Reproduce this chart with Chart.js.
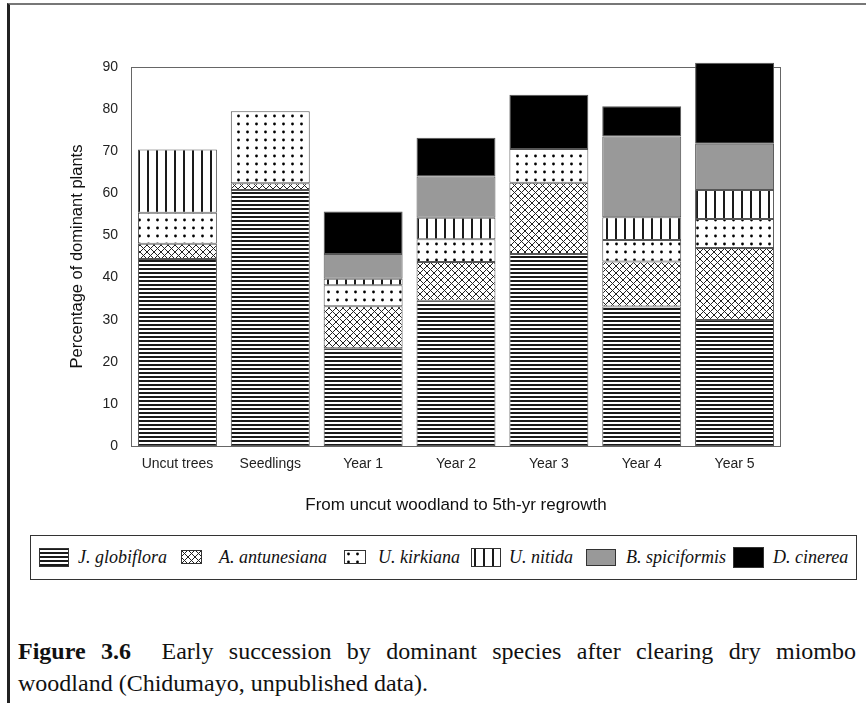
<!DOCTYPE html>
<html>
<head>
<meta charset="utf-8">
<script src="https://cdn.jsdelivr.net/npm/chart.js@4.4.0/dist/chart.umd.min.js"></script>
<style>
  html, body { margin: 0; padding: 0; background: #fff; }
  body { width: 866px; height: 703px; position: relative; overflow: hidden; }
  #frame { position: absolute; left: 7px; top: 3px; right: -10px; bottom: -10px;
    border-left: 3px solid #222; border-top: 2px solid #777; }
  #chartBox { position: absolute; left: 0; top: 0; width: 866px; height: 530px; }
  #legend { position: absolute; left: 30px; top: 535px; width: 825px; height: 43px;
    border: 1px solid #333; font-family: "Liberation Serif", "Times New Roman", serif;
    font-style: italic; font-size: 18px; color: #111; }
  #legend canvas, #legend span { position: absolute; }
  #legend span { top: 11px; white-space: nowrap; }
  #caption { position: absolute; left: 18px; top: 635px; width: 838px;
    font-family: "Liberation Serif", "Times New Roman", serif; font-size: 24px;
    line-height: 32px; color: #111; }
  #caption .l1 { text-align: justify; text-align-last: justify; }
</style>
</head>
<body>
<div id="frame"></div>
<div id="chartBox"><canvas id="chart" width="866" height="530"></canvas></div>
<div id="legend"></div>
<div id="caption">
  <div class="l1"><b>Figure 3.6</b>&nbsp; Early succession by dominant species after clearing dry miombo</div>
  <div>woodland (Chidumayo, unpublished data).</div>
</div>
<script>
const categories = ['Uncut trees', 'Seedlings', 'Year 1', 'Year 2', 'Year 3', 'Year 4', 'Year 5'];
const species = ['J. globiflora', 'A. antunesiana', 'U. kirkiana', 'U. nitida', 'B. spiciformis', 'D. cinerea'];

// percentage of dominant plants, one array per species (bottom to top of each stack)
const globiflora  = [44.4, 60.8, 23.2, 34.5, 45.6, 33.1, 29.9];
const antunesiana = [3.6, 1.6, 10.0, 9.2, 16.9, 10.7, 17.1];
const kirkiana    = [7.4, 17.1, 5.0, 5.4, 8.0, 5.1, 6.9];
const nitida      = [15.0, 0, 1.5, 5.1, 0, 5.4, 6.9];
const spiciformis = [0, 0, 5.9, 9.8, 0, 19.2, 11.0];
const cinerea     = [0, 0, 10.1, 9.2, 12.9, 7.2, 19.2];

const yTicks = [0, 10, 20, 30, 40, 50, 60, 70, 80, 90];

const xTitle = 'From uncut woodland to 5th-yr regrowth';
const yTitle = 'Percentage of dominant plants';

// small tiles used as fill patterns
function makeTile(kind) {
  const c = document.createElement('canvas');
  const g = c.getContext('2d');
  if (kind === 'hlines') {
    c.width = 4; c.height = 4;
    g.fillStyle = '#fff'; g.fillRect(0, 0, 4, 4);
    g.fillStyle = '#1a1a1a'; g.fillRect(0, 0, 4, 2);
  } else if (kind === 'cross') {
    c.width = 7; c.height = 7;
    g.fillStyle = '#fff'; g.fillRect(0, 0, 7, 7);
    g.strokeStyle = '#222'; g.lineWidth = 1;
    g.beginPath();
    g.moveTo(0, 0); g.lineTo(7, 7);
    g.moveTo(7, 0); g.lineTo(0, 7);
    g.stroke();
  } else if (kind === 'dots') {
    c.width = 9; c.height = 8;
    g.fillStyle = '#fff'; g.fillRect(0, 0, 9, 8);
    g.fillStyle = '#000';
    g.beginPath(); g.arc(4.5, 4, 1.4, 0, Math.PI * 2); g.fill();
  } else if (kind === 'vlines') {
    c.width = 9; c.height = 4;
    g.fillStyle = '#fff'; g.fillRect(0, 0, 9, 4);
    g.fillStyle = '#1a1a1a'; g.fillRect(3, 0, 2, 4);
  } else if (kind === 'gray') {
    c.width = 2; c.height = 2;
    g.fillStyle = '#999'; g.fillRect(0, 0, 2, 2);
  } else {
    c.width = 2; c.height = 2;
    g.fillStyle = '#000'; g.fillRect(0, 0, 2, 2);
  }
  return c;
}

const tileKinds = ['hlines', 'cross', 'dots', 'vlines', 'gray', 'black'];
const tiles = tileKinds.map(makeTile);

const canvas = document.getElementById('chart');
const ctx = canvas.getContext('2d');
const fills = tiles.map(t => ctx.createPattern(t, 'repeat'));

const seriesValues = [globiflora, antunesiana, kirkiana, nitida, spiciformis, cinerea];

const datasets = species.map((name, i) => ({
  label: name,
  data: seriesValues[i],
  backgroundColor: fills[i],
  borderColor: '#555',
  borderWidth: 1,
  borderSkipped: false,
  barPercentage: 0.85,
  categoryPercentage: 1.0,
  clip: false,
}));

// box round the plot area, drawn under the bars
const framePlugin = {
  id: 'plotFrame',
  beforeDatasetsDraw(chart) {
    const a = chart.chartArea;
    const c = chart.ctx;
    c.save();
    c.strokeStyle = '#666';
    c.lineWidth = 1;
    c.strokeRect(a.left + 0.5, a.top + 0.5, a.right - a.left - 1, a.bottom - a.top);
    c.restore();
  }
};

const tickFont = { family: '"Liberation Sans", Arial, sans-serif', size: 14 };

new Chart(ctx, {
  type: 'bar',
  data: { labels: categories, datasets: datasets },
  options: {
    responsive: false,
    animation: false,
    layout: { padding: { top: 67, right: 85, left: 0, bottom: 0 } },
    plugins: { legend: { display: false }, tooltip: { enabled: false } },
    scales: {
      x: {
        stacked: true,
        grid: { display: false, drawTicks: false },
        border: { display: false },
        ticks: { color: '#222', font: tickFont, padding: 10, maxRotation: 0, autoSkip: false },
        title: { display: true, text: xTitle, color: '#111',
          font: { family: '"Liberation Sans", Arial, sans-serif', size: 17 }, padding: { top: 0, bottom: 14 } },
        afterFit: s => { s.height = 84; }
      },
      y: {
        stacked: true,
        min: 0,
        max: 90,
        grid: { display: false, drawTicks: false },
        border: { display: false },
        afterBuildTicks: s => { s.ticks = yTicks.map(v => ({ value: v })); },
        ticks: { color: '#222', font: tickFont, padding: 13 },
        title: { display: true, text: yTitle, color: '#111',
          font: { family: '"Liberation Sans", Arial, sans-serif', size: 16.5 }, padding: { top: 68, bottom: 0 } },
        afterFit: s => { s.width = 131; }
      }
    }
  },
  plugins: [framePlugin]
});

// legend in a bordered box under the chart
const legend = document.getElementById('legend');
const swatchX = [8, 150, 313, 440, 555, 702];
const textX = [47, 188, 347, 478, 595, 742];
const swatchSize = [[30, 19], [21, 14], [22, 14], [30, 19], [30, 17], [31, 21]];
species.forEach((name, i) => {
  const sw = document.createElement('canvas');
  const [w, h] = swatchSize[i];
  sw.width = w; sw.height = h;
  sw.style.left = swatchX[i] + 'px';
  sw.style.top = Math.round(21 - h / 2) + 'px';
  const g = sw.getContext('2d');
  g.fillStyle = g.createPattern(tiles[i], 'repeat');
  g.fillRect(0, 0, w, h);
  g.strokeStyle = '#333';
  g.lineWidth = 1;
  g.strokeRect(0.5, 0.5, w - 1, h - 1);
  legend.appendChild(sw);
  const t = document.createElement('span');
  t.textContent = name;
  t.style.left = textX[i] + 'px';
  legend.appendChild(t);
});
</script>
</body>
</html>
